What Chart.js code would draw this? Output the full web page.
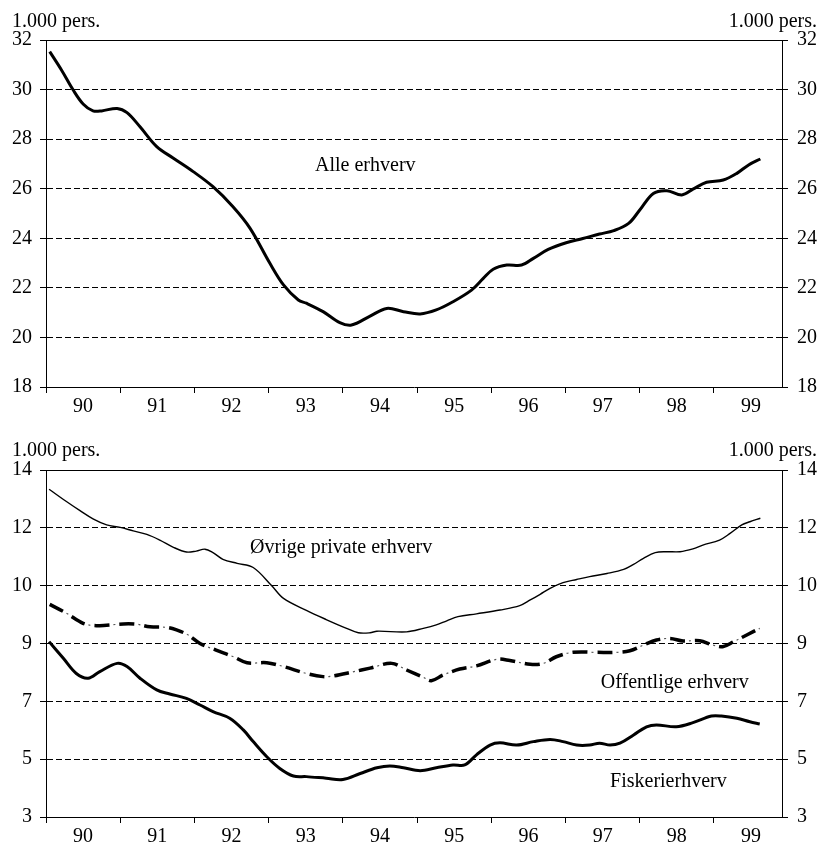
<!DOCTYPE html>
<html>
<head>
<meta charset="utf-8">
<script src="https://cdn.jsdelivr.net/npm/chart.js@4.4.1/dist/chart.umd.min.js"></script>
<style>
html,body{margin:0;padding:0;background:#fff;}
#top{position:absolute;left:0;top:0;width:819px;height:420px;}
#bot{position:absolute;left:0;top:420px;width:819px;height:423px;}
</style>
</head>
<body>
<div id="top"><canvas id="c1"></canvas></div>
<div id="bot"><canvas id="c2"></canvas></div>
<script>
// ---- data (months since Jan 1990, month centres) ----
const yearLabels = ['90','91','92','93','94','95','96','97','98','99'];
const unitLabel = '1.000 pers.';

const alleMonths = [0.6,2.5,4.4,6.0,7.6,9.0,11.5,13.1,15.2,17.9,20.6,23.8,27.0,30.2,33.0,36.2,38.4,40.8,42.1,44.8,47.5,49.4,52.4,55.1,57.8,60.5,63.1,65.8,68.8,70.7,72.3,74.5,76.9,78.8,81.2,84.1,86.8,89.5,91.8,94.2,96.0,98.2,100.4,102.8,104.6,106.8,109.5,111.7,113.6,115.5];
const alleValues = [31.53,30.79,29.98,29.42,29.14,29.14,29.24,29.07,28.5,27.7,27.23,26.69,26.08,25.28,24.4,22.99,22.12,21.51,21.38,21.04,20.6,20.5,20.86,21.17,21.04,20.95,21.11,21.44,21.91,22.38,22.75,22.92,22.92,23.19,23.55,23.82,23.99,24.17,24.31,24.6,25.14,25.81,25.92,25.75,25.98,26.26,26.35,26.62,26.96,27.2];

const ovrigeMonths = [0.5,3.3,5.5,7.6,9.8,12.0,14.1,16.3,18.4,20.6,22.7,24.3,25.7,27.0,28.6,30.9,33.5,36.5,38.4,42.1,45.3,48.6,50.5,52.4,53.5,58.3,61.0,63.1,64.8,66.6,69.6,73.4,76.6,78.3,79.9,81.5,83.6,85.8,87.9,90.7,93.4,95.0,96.6,98.5,100.3,102.5,104.6,106.2,108.9,110.6,112.5,113.8,115.5];
const ovrigeValues = [13.39,13.0,12.71,12.45,12.26,12.18,12.07,11.96,11.78,11.55,11.4,11.43,11.49,11.38,11.17,11.04,10.91,10.33,9.93,9.55,9.26,8.98,8.84,8.84,8.89,8.87,8.98,9.09,9.22,9.35,9.44,9.56,9.70,9.88,10.06,10.25,10.43,10.53,10.62,10.72,10.85,11.01,11.2,11.38,11.41,11.41,11.5,11.62,11.78,11.99,12.26,12.36,12.47];

const offMonths = [0.6,3.3,6.0,7.6,9.8,12.5,14.7,16.8,19.5,21.1,23.0,24.9,27.5,30.3,32.5,35.7,38.4,42.1,44.8,46.4,49.6,52.4,55.9,58.3,61.0,62.3,64.2,66.9,69.6,72.9,75.0,78.3,80.4,82.5,85.2,89.0,92.3,94.4,96.6,98.7,100.9,103.0,105.7,107.8,109.4,111.2,113.3,115.4];
const offValues = [9.74,9.46,9.14,9.07,9.08,9.12,9.11,9.03,9.01,8.93,8.77,8.5,8.29,8.08,7.89,7.89,7.77,7.55,7.45,7.47,7.6,7.72,7.87,7.66,7.43,7.32,7.5,7.69,7.79,8.0,7.96,7.84,7.87,8.08,8.22,8.22,8.22,8.27,8.45,8.61,8.66,8.58,8.59,8.45,8.40,8.56,8.77,8.98];

const fiskMonths = [0.5,2.8,4.9,6.8,8.7,11.5,13.1,15.2,17.9,20.0,22.7,24.9,27.0,29.7,31.9,33.5,35.7,37.8,40.0,42.1,45.3,48.0,50.8,53.5,55.6,57.8,60.5,63.1,65.8,67.7,69.6,71.8,73.4,76.1,78.8,81.5,83.6,85.8,87.9,89.5,91.2,92.8,95.0,97.1,98.7,101.9,104.6,107.6,109.2,111.7,113.8,115.4];
const fiskValues = [8.56,8.03,7.55,7.40,7.61,7.87,7.77,7.40,7.03,6.90,6.76,6.55,6.34,6.13,5.76,5.39,4.91,4.54,4.30,4.28,4.23,4.19,4.38,4.56,4.62,4.56,4.47,4.56,4.65,4.65,4.97,5.28,5.35,5.28,5.39,5.46,5.39,5.28,5.28,5.34,5.28,5.34,5.6,5.86,5.92,5.86,5.99,6.20,6.20,6.13,6.02,5.95];

const upperMin = 18, upperMax = 32, upperStep = 2;
const lowerMin = 3, lowerMax = 14;
const lowerTickLabels = ['3','5','7','9','10','12','14'];
const monthsOnAxis = 119;

// ---- helpers ----
const FONT = "'Liberation Serif', 'Times New Roman', serif";
Chart.defaults.font.family = FONT;
Chart.defaults.font.size = 20;
Chart.defaults.color = '#000';

function pts(ms, vs){ return ms.map((m,i)=>({x:m, y:vs[i]})); }

function xAxis(h){
  return {
    type:'linear', position:'bottom', min:0, max:monthsOnAxis,
    afterBuildTicks: s => { const t=[]; for(let v=0; v<=114; v+=6) t.push({value:v}); s.ticks=t; },
    ticks:{autoSkip:false, maxRotation:0, minRotation:0, padding:2, color:'#000',
      callback: v => (v % 12 === 6) ? yearLabels[(v-6)/12] : ''},
    grid:{drawOnChartArea:false, tickLength:6, lineWidth:1, color:'#000',
      tickColor: c => (c.tick && c.tick.value % 12 === 0) ? '#000' : 'rgba(0,0,0,0)'},
    border:{display:true, color:'#000', width:1},
    afterFit: s => { s.height = h; }
  };
}

function yAxes(min, max, step, labels){
  const build = labels ? (s => { s.ticks = labels.map((_,i)=>({value: min + i*(max-min)/(labels.length-1)})); }) : undefined;
  const cb = labels ? ((v,i) => labels[i]) : (v => String(v));
  const common = (side) => ({
    position: side, min, max,
    afterBuildTicks: build,
    ticks:{stepSize: step, padding: side==='left'?8:9, color:'#000', callback: cb},
    grid:{drawOnChartArea: side==='left', color:'#000', lineWidth:1, tickLength:6, tickColor:'#000', tickBorderDash:[]},
    border:{display:true, color:'#000', width:1, dash: side==='left'?[6,3]:[]},
    afterFit: s => { s.width = side==='left' ? 46 : 37; }
  });
  return {y: common('left'), y2: common('right')};
}

const textPlugin = {
  id:'panelTexts',
  afterDraw(chart, args, opts){
    const ctx = chart.ctx, ca = chart.chartArea;
    ctx.save();
    // solid top frame line
    ctx.strokeStyle = '#000'; ctx.lineWidth = 1; ctx.setLineDash([]);
    ctx.beginPath();
    const ty = Math.round(ca.top) + 0.5;
    ctx.moveTo(ca.left, ty); ctx.lineTo(ca.right, ty); ctx.stroke();
    ctx.font = '20px ' + FONT; ctx.fillStyle = '#000'; ctx.textBaseline = 'alphabetic';
    ctx.textAlign = 'left'; ctx.fillText(unitLabel, 12, opts.unitY);
    ctx.textAlign = 'right'; ctx.fillText(unitLabel, chart.width - 2, opts.unitY);
    ctx.textAlign = 'left';
    for (const a of opts.labels){
      ctx.fillText(a.text, chart.scales.x.getPixelForValue(a.x), chart.scales.y.getPixelForValue(a.y));
    }
    ctx.restore();
  }
};

function baseOptions(padTop, xh, yax, unitY, labels){
  return {
    responsive:true, maintainAspectRatio:false, animation:false, devicePixelRatio:1,
    layout:{padding:{top:padTop, left:0, right:0, bottom:0}},
    elements:{point:{radius:0}, line:{tension:0.35, fill:false}},
    scales: Object.assign({x: xAxis(xh)}, yax),
    plugins:{legend:{display:false}, tooltip:{enabled:false}, panelTexts:{unitY, labels}}
  };
}

new Chart(document.getElementById('c1'), {
  type:'line',
  data:{datasets:[
    {label:'Alle erhverv', data:pts(alleMonths, alleValues), borderColor:'#000', borderWidth:3, yAxisID:'y'}
  ]},
  options: baseOptions(40, 33, yAxes(upperMin, upperMax, upperStep, null), 26.5,
    [{text:'Alle erhverv', x:43.5, y:26.71}]),
  plugins:[textPlugin]
});

new Chart(document.getElementById('c2'), {
  type:'line',
  data:{datasets:[
    {label:'Øvrige private erhverv', data:pts(ovrigeMonths, ovrigeValues), borderColor:'#000', borderWidth:1.4, yAxisID:'y'},
    {label:'Offentlige erhverv', data:pts(offMonths, offValues), borderColor:'#000', borderWidth:3.5, borderDash:[15,10], yAxisID:'y'},
    {label:'Offentlige erhverv (prik)', data:pts(offMonths, offValues), borderColor:'#555', borderWidth:1.2, borderDash:[2,23], borderDashOffset:6, yAxisID:'y'},
    {label:'Fiskerierhverv', data:pts(fiskMonths, fiskValues), borderColor:'#000', borderWidth:3, yAxisID:'y'}
  ]},
  options: baseOptions(50, 26, yAxes(lowerMin, lowerMax, null, lowerTickLabels), 36,
    [{text:'Øvrige private erhverv', x:33.0, y:11.38},
     {text:'Offentlige erhverv', x:89.7, y:7.08},
     {text:'Fiskerierhverv', x:91.2, y:3.94}]),
  plugins:[textPlugin]
});
</script>
</body>
</html>
